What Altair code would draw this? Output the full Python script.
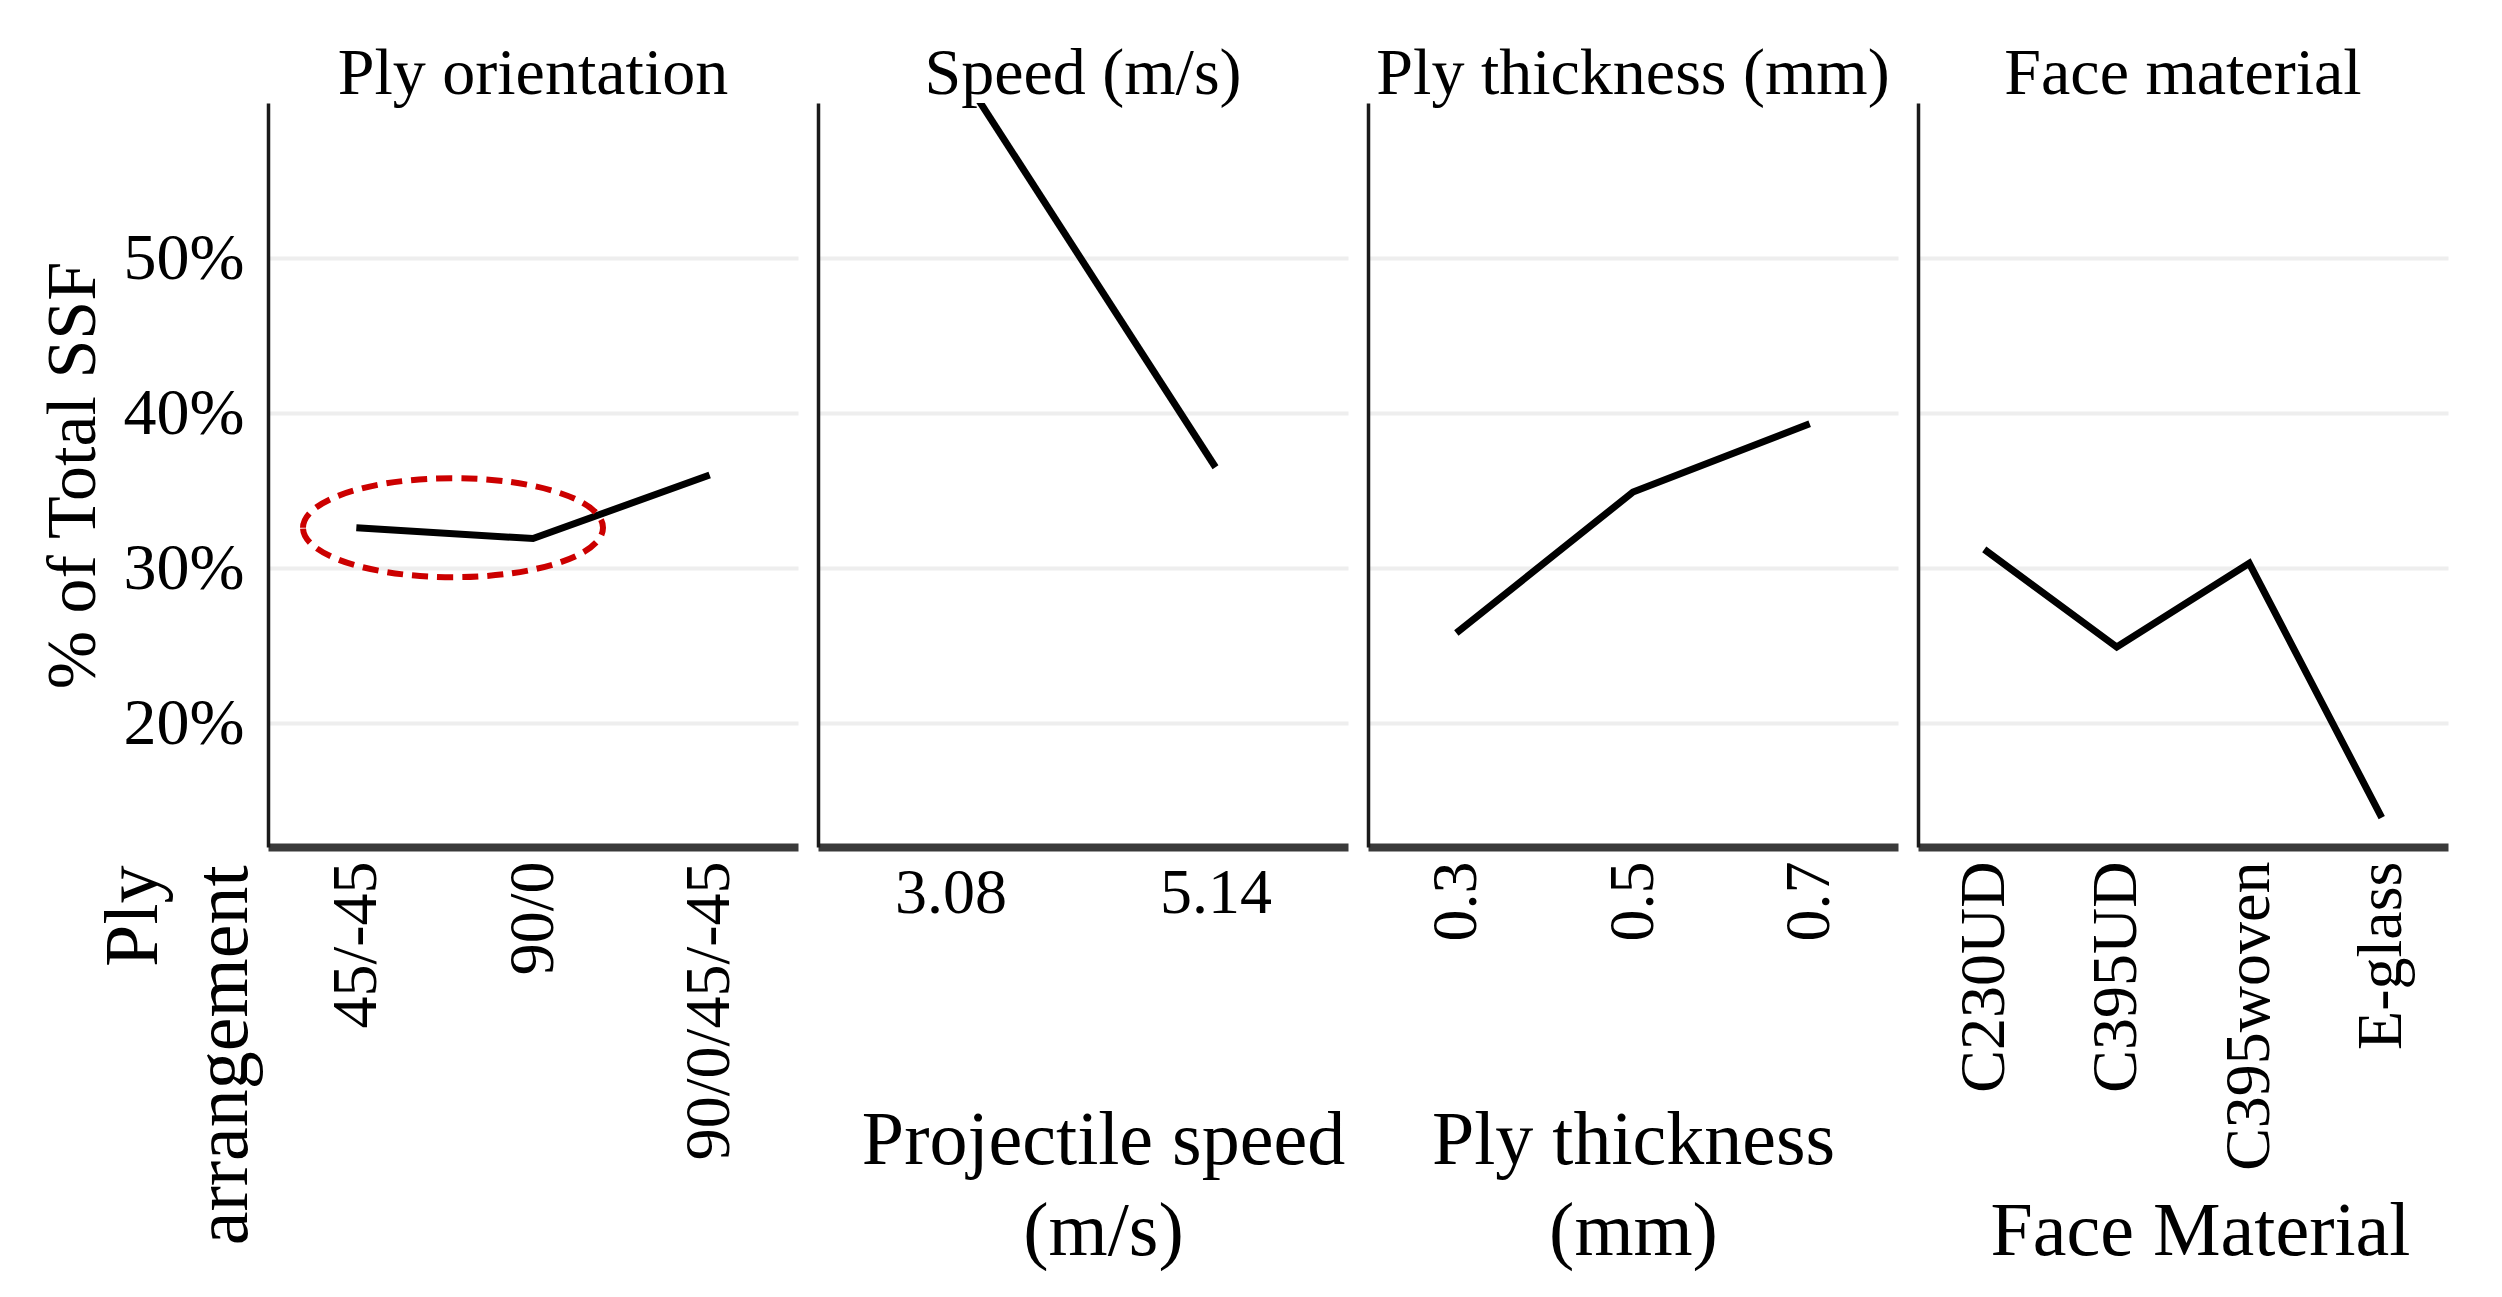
import altair as alt
import pandas as pd

FONT = "Liberation Serif"
LINE = "#000000"
GRID = "#eeeeee"
X_AXIS = "#3a3a3a"
Y_AXIS = "#1a1a1a"
RING = "#cc0000"

# % of total SSF
ply_labels = ["45/-45", "90/0", "90/0/45/-45"]
ply_values = [32.6, 31.9, 36.0]

speed_labels = ["3.08", "5.14"]
speed_values = [63.0, 36.5]

thick_labels = ["0.3", "0.5", "0.7"]
thick_values = [25.8, 34.9, 39.3]

face_labels = ["C230UD", "C395UD", "C395woven", "E-glass"]
face_values = [31.2, 24.9, 30.3, 13.9]

# centre of the red dashed ring in the first panel
ring_level = ["90/0"]
ring_value = [32.6]

Y_TICKS = [20, 30, 40, 50]
Y_DOMAIN = [12, 60]

W, H = 530, 744

# unit ellipse (rx=1, ry=0.33) as a custom symbol path
ELLIPSE = ("M -1 0 C -1 -0.182 -0.552 -0.33 0 -0.33 C 0.552 -0.33 1 -0.182 1 0 "
           "C 1 0.182 0.552 0.33 0 0.33 C -0.552 0.33 -1 0.182 -1 0 Z")


def y_enc(first):
    if first:
        axis = alt.Axis(values=Y_TICKS, labelExpr="datum.value + '%'",
                        title="% of Total SSF")
    else:
        axis = alt.Axis(values=Y_TICKS, labels=False, title="")
    return alt.Y("value:Q", scale=alt.Scale(domain=Y_DOMAIN), axis=axis)


def x_enc(labels, axis):
    return alt.X("level:N", sort=labels,
                 scale=alt.Scale(type="point", padding=0.5), axis=axis)


def line_chart(labels, values, x_axis, first=False):
    df = pd.DataFrame({"level": labels, "value": values})
    return alt.Chart(df).mark_line(color=LINE, strokeWidth=7, clip=True).encode(
        x=x_enc(labels, x_axis),
        y=y_enc(first),
    )


ply_axis = alt.Axis(labelAngle=270, title=["Ply", "arrangement"], titleAngle=270,
                    titleAlign="right", titleBaseline="alphabetic",
                    titleX=-112, titleY=18, titleLineHeight=90)
speed_axis = alt.Axis(labelAngle=0, title=["Projectile speed", "(m/s)"],
                      titleAlign="center", titleBaseline="alphabetic",
                      titleX=285, titleY=316, titleLineHeight=91)
thick_axis = alt.Axis(labelAngle=270, title=["Ply thickness", "(mm)"],
                      titleAlign="center", titleBaseline="alphabetic",
                      titleX=265, titleY=316, titleLineHeight=91)
face_axis = alt.Axis(labelAngle=270, title="Face Material",
                     titleAlign="center", titleBaseline="alphabetic",
                     titleX=282, titleY=407)

ply_line = line_chart(ply_labels, ply_values, ply_axis, first=True)
ring = alt.Chart(pd.DataFrame({"level": ring_level, "value": ring_value})).mark_point(
    shape=ELLIPSE, size=90000, filled=False, stroke=RING, strokeWidth=6,
    strokeDash=[16, 9], xOffset=-80, opacity=1,
).encode(
    x=x_enc(ply_labels, ply_axis),
    y=y_enc(True),
)
p1 = alt.layer(ply_line, ring).properties(width=W, height=H, title="Ply orientation")
p2 = line_chart(speed_labels, speed_values, speed_axis).properties(
    width=W, height=H, title="Speed (m/s)")
p3 = line_chart(thick_labels, thick_values, thick_axis).properties(
    width=W, height=H, title="Ply thickness (mm)")
p4 = line_chart(face_labels, face_values, face_axis).properties(
    width=W, height=H, title="Face material")

chart = alt.hconcat(p1, p2, p3, p4, spacing=20).properties(
    background="white",
    padding={"left": 30, "top": 33, "right": 10, "bottom": 5},
).configure_view(
    stroke=None
).configure_title(
    font=FONT, fontSize=66, fontWeight="normal", color="black",
    anchor="middle", baseline="alphabetic", offset=-5
).configure_axis(
    labelFont=FONT, titleFont=FONT, labelColor="black", titleColor="black",
    titleFontWeight="normal", ticks=False, tickSize=0, labelLimit=600
).configure_axisX(
    domainColor=X_AXIS, domainWidth=8, grid=False,
    labelFontSize=64, labelPadding=14, titleFontSize=76
).configure_axisY(
    domainColor=Y_AXIS, domainWidth=3.5, grid=True, gridColor=GRID, gridWidth=4,
    labelFontSize=66, labelPadding=24, titleFontSize=70, titlePadding=14
)

chart.save("out.html", embed_options={"renderer": "svg", "actions": False})
